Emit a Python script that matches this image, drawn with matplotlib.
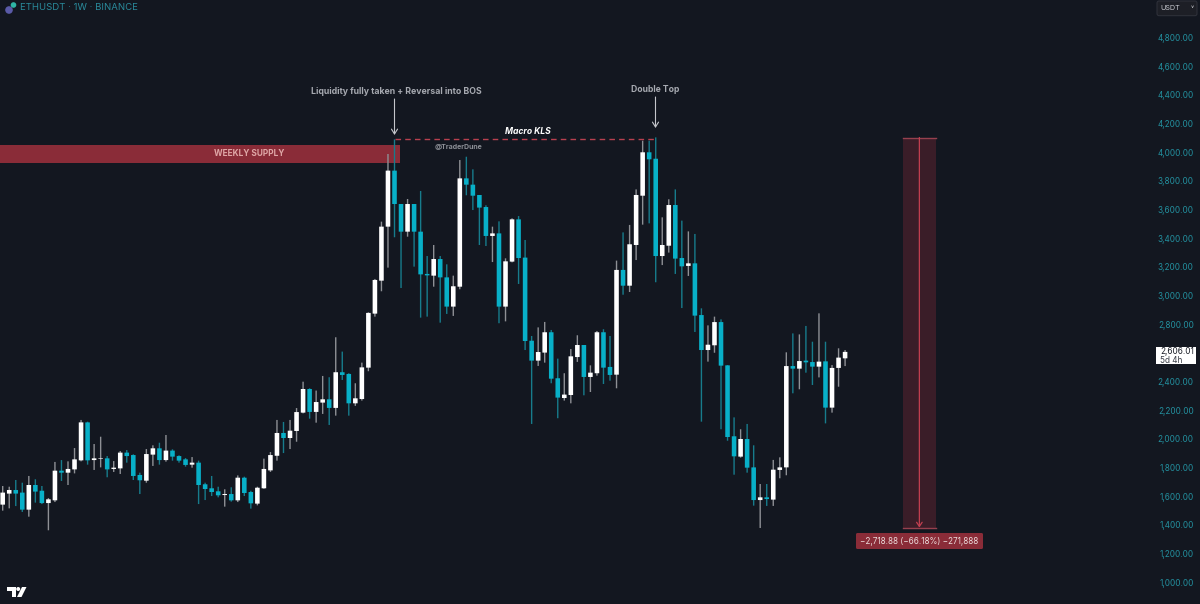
import matplotlib
matplotlib.use("Agg")
import numpy as np
import matplotlib.pyplot as plt
from matplotlib.patches import Circle, FancyBboxPatch, Polygon, Rectangle
from matplotlib.transforms import Affine2D

plt.rcParams['font.family'] = ['Inter', 'DejaVu Sans']

# weekly candles
opens = [1540, 1617, 1642, 1624, 1505, 1677, 1637, 1551, 1570, 1777,
         1763, 1786, 1849, 2114, 1851, 1861, 1863, 1789, 1793, 1903,
         1886, 1747, 1707, 1889, 1933, 1851, 1917, 1879, 1856, 1819,
         1833, 1682, 1654, 1633, 1607, 1614, 1570, 1728, 1628, 1547,
         1654, 1779, 1881, 2040, 2005, 2054, 2182, 2347, 2187, 2252,
         2275, 2215, 2464, 2452, 2247, 2277, 2496, 2873, 3103, 3480,
         3871, 3638, 3445, 3638, 3445, 3150, 3138, 3254, 3126, 2922,
         3061, 3817, 3773, 3701, 3617, 3415, 3433, 2922, 3236, 3531,
         3264, 2684, 2545, 2601, 2743, 2422, 2284, 2305, 2570, 2654,
         2431, 2457, 2743, 2501, 2447, 3178, 3068, 3352, 3696, 3999,
         3954, 3275, 3347, 3631, 3261, 3206, 3224, 2863, 2619, 2652,
         2814, 2512, 2017, 1875, 1998, 1800, 1572, 1591, 1575, 1782,
         1800, 2507, 2489, 2545, 2535, 2503, 2540, 2217, 2494, 2561]
closes = [1624, 1642, 1617, 1505, 1677, 1631, 1551, 1577, 1777, 1763,
          1789, 1856, 2114, 1849, 1863, 1865, 1786, 1798, 1903, 1879,
          1740, 1710, 1893, 1933, 1851, 1917, 1875, 1847, 1817, 1833,
          1677, 1649, 1628, 1605, 1614, 1570, 1728, 1621, 1549, 1658,
          1789, 1886, 2040, 2005, 2056, 2186, 2347, 2187, 2256, 2275,
          2215, 2464, 2445, 2247, 2282, 2498, 2878, 3108, 3480, 3871,
          3638, 3445, 3638, 3445, 3147, 3140, 3254, 3126, 2922, 3064,
          3817, 3773, 3696, 3613, 3415, 3433, 2922, 3238, 3531, 3261,
          2682, 2545, 2605, 2743, 2419, 2287, 2308, 2575, 2654, 2431,
          2461, 2743, 2496, 2445, 3178, 3068, 3357, 3701, 3999, 3950,
          3275, 3352, 3631, 3257, 3203, 3224, 2859, 2619, 2656, 2814,
          2510, 2012, 1877, 1998, 1798, 1572, 1591, 1579, 1784, 1800,
          2507, 2489, 2542, 2533, 2503, 2538, 2217, 2494, 2566, 2606]
highs = [1670, 1665, 1712, 1693, 1740, 1717, 1670, 1586, 1838, 1851,
         1842, 1935, 2131, 2119, 1963, 2014, 1879, 1844, 1914, 1921,
         1891, 1763, 1928, 1954, 1972, 2026, 1926, 1884, 1865, 1872,
         1847, 1693, 1740, 1665, 1647, 1661, 1744, 1735, 1637, 1665,
         1861, 1907, 2131, 2117, 2131, 2214, 2398, 2352, 2336, 2438,
         2429, 2708, 2608, 2457, 2387, 2531, 2882, 3115, 3515, 3987,
         4089, 3638, 3673, 3638, 3729, 3275, 3352, 3275, 3217, 3138,
         3945, 3968, 3880, 3701, 3629, 3480, 3517, 3259, 3538, 3554,
         3387, 2717, 2777, 2815, 2759, 2559, 2457, 2626, 2722, 2654,
         2512, 2752, 2764, 2717, 3243, 3440, 3492, 3740, 4080, 4080,
         4103, 3545, 3671, 3740, 3522, 3447, 3429, 2910, 2791, 2852,
         2833, 2514, 2149, 2066, 2103, 1954, 1684, 1684, 1852, 1870,
         2603, 2735, 2728, 2787, 2677, 2875, 2677, 2514, 2631, 2619]
lows = [1498, 1514, 1530, 1489, 1456, 1554, 1544, 1361, 1558, 1705,
        1677, 1758, 1842, 1819, 1782, 1800, 1731, 1768, 1754, 1833,
        1712, 1614, 1693, 1810, 1819, 1840, 1847, 1833, 1805, 1798,
        1544, 1572, 1600, 1591, 1526, 1561, 1558, 1600, 1512, 1535,
        1651, 1768, 1847, 1900, 1928, 1979, 2177, 2140, 2112, 2173,
        2096, 2161, 2410, 2161, 2229, 2266, 2471, 2852, 3029, 3194,
        3406, 3052, 3410, 3201, 2845, 2852, 3061, 2810, 2871, 2857,
        3043, 3699, 3596, 3352, 3345, 3233, 2806, 2819, 3231, 3080,
        2619, 2103, 2508, 2531, 2387, 2143, 2266, 2247, 2536, 2303,
        2326, 2440, 2382, 2405, 2352, 3005, 3024, 3247, 3494, 3503,
        3092, 3212, 3299, 3150, 2912, 3136, 2745, 2119, 2538, 2600,
        2066, 1986, 1749, 1868, 1763, 1533, 1377, 1531, 1531, 1724,
        1745, 2317, 2345, 2461, 2375, 2428, 2107, 2182, 2363, 2507]

y_ticks = [1000, 1200, 1400, 1600, 1800, 2000, 2200, 2400, 2800, 3000,
           3200, 3400, 3600, 3800, 4000, 4200, 4400, 4600, 4800]

supply_top, supply_bottom = 4050, 3921
supply_end = 60.85
kls_price = 4090
kls_from, kls_to = 60, 100
measure_top, measure_bottom = 4102, 1380
measure_from, measure_to = 137.9, 142.85
last_price = 2606.01

BG = '#131720'
TEAL = '#08b0c8'
RED = '#8a2c38'

fig = plt.figure(figsize=(12, 6.04), dpi=100, facecolor=BG)
ax = fig.add_axes([0, 0, 1, 1], facecolor=BG)
ax.set_xlim(-0.413, 183.35)
ax.set_ylim(846.5, 5061.8)
for s in ax.spines.values():
    s.set_visible(False)
ax.set_xticks([])
ax.set_yticks(y_ticks, [f'{v:,.2f}' for v in y_ticks])
ax.yaxis.tick_right()
ax.tick_params(axis='y', length=0, pad=-4.5, labelsize=5.9, labelcolor='#23909f')
for lb in ax.get_yticklabels():
    lb.set_ha('right')

# same pixel grid as the screenshot, for the chart furniture
px = Affine2D().scale(1 / 1200, -1 / 604).translate(0, 1) + fig.transFigure

# zones behind the candles
ax.add_patch(Rectangle((-0.413, supply_bottom), supply_end + 0.413, supply_top - supply_bottom,
                       color=RED, lw=0, zorder=1))
ax.text(249, 154, 'WEEKLY SUPPLY', transform=px, ha='center', va='center',
        fontsize=6, fontweight='bold', color='#dfa6a6', zorder=5)

# candles
opens = np.array(opens)
closes = np.array(closes)
highs = np.array(highs)
lows = np.array(lows)
idx = np.arange(len(opens))
up = closes >= opens
ax.vlines(idx[up], lows[up], highs[up], color='#8e9095', lw=1.0, snap=False, zorder=2)
ax.vlines(idx[~up], lows[~up], highs[~up], color='#177c8c', lw=1.0, snap=False, zorder=2)
ax.bar(idx[up], (closes - opens)[up], bottom=opens[up], width=0.7, color='white', lw=0,
       snap=False, zorder=3)
ax.bar(idx[~up], (closes - opens)[~up], bottom=opens[~up], width=0.7, color=TEAL, lw=0,
       snap=False, zorder=3)

# macro level
ax.plot([kls_from, kls_to], [kls_price, kls_price], color='#b8404f', lw=1,
        dashes=(4, 3), zorder=2)
ax.text(528, 132, 'Macro KLS', transform=px, ha='center', va='center', fontsize=6.2,
        fontweight='bold', fontstyle='italic', color='white')
ax.text(458.7, 147, '@TraderDune', transform=px, ha='center', va='center', fontsize=5,
        fontweight='bold', color='#8c8f96')

# callouts
ax.text(396, 91, 'Liquidity fully taken + Reversal into BOS', transform=px, ha='center',
        va='center', fontsize=6.3, fontweight='bold', color='#a6a9b0')
ax.text(655, 90, 'Double Top', transform=px, ha='center', va='center', fontsize=6.2,
        fontweight='bold', color='#a6a9b0')
for x0, y0, y1 in [(394.5, 99, 135), (655.5, 97, 128)]:
    ax.annotate('', xy=(x0, y1), xytext=(x0, y0), xycoords=px, textcoords=px,
                arrowprops=dict(arrowstyle='->,head_length=0.35,head_width=0.22',
                                color='#c4c6cb', lw=0.8, shrinkA=0, shrinkB=0))

# measure box
ax.add_patch(Rectangle((measure_from, measure_bottom), measure_to - measure_from,
                       measure_top - measure_bottom, color='#3a1d28', lw=0, zorder=1))
ax.plot([measure_from, measure_to], [measure_top, measure_top], color='#96404e', lw=1, zorder=2)
ax.plot([measure_from, measure_to], [measure_bottom, measure_bottom], color='#96404e', lw=1, zorder=2)
ax.annotate('', xy=((measure_from + measure_to) / 2, measure_bottom),
            xytext=((measure_from + measure_to) / 2, measure_top),
            arrowprops=dict(arrowstyle='->,head_length=0.3,head_width=0.2', color='#c23f50',
                            lw=0.9, shrinkA=0, shrinkB=0), zorder=3)
ax.add_patch(FancyBboxPatch((856, 533), 127, 16, boxstyle='round,pad=0,rounding_size=1.5',
                            transform=px, fc=RED, ec='none', zorder=4))
ax.text(919.5, 541, '\u22122,718.88 (\u221266.18%) \u2212271,888', transform=px, ha='center',
        va='center', fontsize=5.85, color='#ecdcdc', zorder=5)

# last price tag
ax.add_patch(Rectangle((1156, 347), 40, 17, transform=px, fc='white', ec='none', zorder=4))
ax.text(1160, 352, f'{last_price:,.2f}', transform=px, ha='left', va='center', fontsize=5.9,
        color='#1a1d26', zorder=5)
ax.text(1160, 360.7, '5d 4h', transform=px, ha='left', va='center', fontsize=5.9,
        color='#3a3d46', zorder=5)

# header
ax.add_patch(Circle((9, 10), 3.8, transform=px, fc='#5a5aa8', ec='none', zorder=5))
ax.add_patch(Circle((13.5, 5), 2.8, transform=px, fc='#2fb5a5', ec='none', zorder=5))
ax.text(20, 8, 'ETHUSDT \u00b7 1W \u00b7 BINANCE', transform=px, ha='left', va='center',
        fontsize=6.9, color='#2a8b9c')

# currency button
ax.add_patch(FancyBboxPatch((1157, 1), 40, 14.7, boxstyle='round,pad=0,rounding_size=2',
                            transform=px, fc='#1d1f26', ec='#30333c', lw=0.7, zorder=4))
ax.text(1160.7, 8.3, 'USDT', transform=px, ha='left', va='center', fontsize=5.2,
        color='#c8cad0', zorder=5)
ax.text(1192, 8.5, '\u02c5', transform=px, ha='center', va='center', fontsize=5,
        color='#c8cad0', zorder=5)

# logo
ax.add_patch(Polygon([(7, 587), (15.5, 587), (15.5, 597), (11.5, 597), (11.5, 591), (7, 591)],
                     transform=px, fc='white', ec='none', zorder=5))
ax.add_patch(Circle((18.2, 589), 2, transform=px, fc='white', ec='none', zorder=5))
ax.add_patch(Polygon([(22, 587), (26.5, 587), (21.5, 597), (17, 597)],
                     transform=px, fc='white', ec='none', zorder=5))

fig.savefig('out.png', dpi=100, facecolor=BG)
